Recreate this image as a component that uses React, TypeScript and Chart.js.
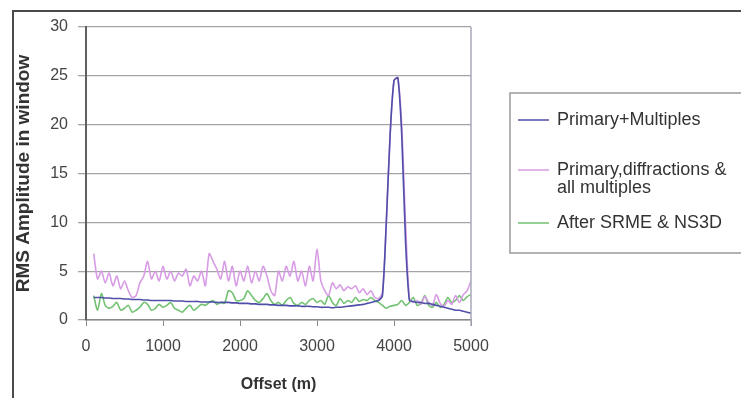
import React, { useEffect, useRef } from "react";
import { Chart, registerables } from "chart.js";

Chart.register(...registerables);

const offsets = [
  100, 150, 200, 250, 300, 350, 400, 450, 500, 550, 600, 650, 700, 750, 800, 850, 900, 950, 1000,
  1050, 1100, 1150, 1200, 1250, 1300, 1350, 1400, 1450, 1500, 1550, 1600, 1650, 1700, 1750, 1800, 1850, 1900, 1950, 2000,
  2050, 2100, 2150, 2200, 2250, 2300, 2350, 2400, 2450, 2500, 2550, 2600, 2650, 2700, 2750, 2800, 2850, 2900, 2950, 3000,
  3050, 3100, 3150, 3200, 3250, 3300, 3350, 3400, 3450, 3500, 3550, 3600, 3650, 3700, 3750, 3800, 3850, 3900, 3950, 4000,
  4050, 4100, 4150, 4200, 4250, 4300, 4350, 4400, 4450, 4500, 4550, 4600, 4650, 4700, 4750, 4800, 4850, 4900, 4950, 5000,
];

const primaryMultiples = [
  2.3, 2.3, 2.3, 2.25, 2.25, 2.2, 2.2, 2.2, 2.15, 2.15, 2.1, 2.1, 2.1, 2.05, 2.05, 2.0, 2.0, 2.0, 2.0,
  2.0, 2.0, 1.95, 1.95, 1.95, 1.9, 1.9, 1.9, 1.9, 1.85, 1.85, 1.85, 1.85, 1.8, 1.8, 1.8, 1.8, 1.75, 1.75, 1.7,
  1.7, 1.7, 1.65, 1.65, 1.6, 1.6, 1.6, 1.55, 1.55, 1.5, 1.5, 1.5, 1.45, 1.45, 1.45, 1.4, 1.4, 1.4, 1.35, 1.35,
  1.3, 1.3, 1.3, 1.25, 1.3, 1.3, 1.35, 1.4, 1.45, 1.5, 1.55, 1.6, 1.7, 1.8, 1.9, 2.0, 2.5, 10, 19, 24.5,
  24.8, 19, 8, 2.0, 1.9, 1.8, 1.8, 1.7, 1.7, 1.6, 1.5, 1.4, 1.3, 1.2, 1.1, 1.0, 1.0, 0.9, 0.8, 0.7,
];

const primaryDiffractions = [
  6.8, 4.2, 5.0, 3.8, 4.8, 3.5, 4.5, 3.2, 4.0, 3.0, 2.3, 2.5, 3.8, 4.5, 6.0, 4.2, 5.0, 4.0, 5.5,
  4.2, 5.0, 4.0, 4.8, 4.5, 5.2, 3.5, 4.5, 4.0, 5.0, 3.5, 6.8, 6.0, 5.2, 4.2, 6.0, 4.0, 5.5, 3.5, 5.0,
  4.0, 5.5, 3.8, 5.0, 4.0, 5.5, 4.5, 3.0, 2.5, 5.0, 4.0, 5.5, 4.5, 6.0, 4.0, 5.0, 3.5, 5.5, 4.0, 7.3,
  4.0, 3.0, 2.5, 3.8, 3.2, 3.6, 3.0, 3.4, 3.2, 3.5, 2.8, 3.2, 2.6, 3.0, 2.3, 2.2, 2.8, 10, 19, 24.5,
  24.8, 20, 10, 2.2, 1.8, 2.0, 1.6, 2.4, 1.8, 1.5, 2.6, 1.7, 1.4, 2.0, 1.6, 2.5, 1.8, 2.6, 3.0, 4.0,
];

const afterSrme = [
  2.5, 1.0, 2.7, 1.5, 1.2, 1.4, 1.8, 1.0, 1.2, 1.5, 0.8, 1.0, 1.3, 1.8, 1.6, 1.0, 1.2, 1.6, 1.3,
  1.5, 1.8, 1.2, 1.0, 0.8, 1.2, 1.5, 1.0, 1.3, 1.6, 1.5, 1.8, 2.0, 1.6, 1.8, 1.7, 3.0, 2.8, 2.0, 2.0,
  2.2, 3.0, 2.5, 2.0, 1.8, 2.2, 2.7, 2.0, 1.6, 1.8, 1.5, 2.0, 2.3, 1.7, 1.5, 1.8, 1.6, 2.0, 2.2, 1.8,
  2.0, 1.6, 2.5, 1.8, 1.5, 2.2, 1.7, 2.0, 1.8, 2.3, 1.9, 2.1, 2.0, 2.3, 2.0, 1.8, 1.5, 1.2, 1.4, 1.5,
  1.6, 2.0, 1.5, 1.8, 2.3, 1.5, 1.7, 2.5, 1.5, 1.3, 1.8, 1.3, 1.6, 2.3, 1.8, 2.0, 2.5, 2.0, 2.4, 2.6,
];

const seriesNames = ["Primary+Multiples", "Primary,diffractions &\nall multiples", "After SRME & NS3D"];
const seriesColors = ["#4f4fa8", "#d79ce4", "#72c272"];
const xTicks = [0, 1000, 2000, 3000, 4000, 5000];
const yTicks = [0, 5, 10, 15, 20, 25, 30];

const FONT = "'Liberation Sans', Arial, sans-serif";

const framePlugin = {
  id: "frame",
  beforeDraw(chart: any) {
    const ctx = chart.ctx;
    ctx.save();
    ctx.fillStyle = "#ffffff";
    ctx.fillRect(0, 0, chart.width, chart.height);
    ctx.restore();
  },
  afterDraw(chart: any) {
    const ctx = chart.ctx;
    const a = chart.chartArea;
    ctx.save();
    // outer frame
    ctx.strokeStyle = "#4a4a4a";
    ctx.lineWidth = 2;
    ctx.beginPath();
    ctx.moveTo(13, chart.height + 5);
    ctx.lineTo(13, 11);
    ctx.lineTo(chart.width + 5, 11);
    ctx.stroke();
    // plot right border
    ctx.strokeStyle = "#a8a8b8";
    ctx.lineWidth = 1.5;
    ctx.beginPath();
    ctx.moveTo(a.right, a.top);
    ctx.lineTo(a.right, a.bottom + 6);
    ctx.stroke();
    // legend
    const lx = 510, ly = 93, lw = 260, lh = 160;
    ctx.strokeStyle = "#9a9a9a";
    ctx.lineWidth = 1.5;
    ctx.strokeRect(lx, ly, lw, lh);
    ctx.font = `18px ${FONT}`;
    ctx.fillStyle = "#333333";
    ctx.textBaseline = "middle";
    ctx.textAlign = "left";
    const rows = [120, 170, 223];
    seriesNames.forEach((name, i) => {
      const y = rows[i];
      ctx.strokeStyle = seriesColors[i];
      ctx.lineWidth = 1.5;
      ctx.beginPath();
      ctx.moveTo(518, y);
      ctx.lineTo(549, y);
      ctx.stroke();
      name.split("\n").forEach((line, j) => {
        ctx.fillText(line, 557, y + j * 18);
      });
    });
    ctx.restore();
  },
};

export default function App() {
  const ref = useRef<HTMLCanvasElement | null>(null);
  useEffect(() => {
    document.body.style.margin = "0";
    const canvas = ref.current;
    if (!canvas) return;
    const datasets = [primaryMultiples, primaryDiffractions, afterSrme].map((vals, i) => ({
      label: seriesNames[i],
      data: offsets.map((x, k) => ({ x, y: vals[k] })),
      borderColor: seriesColors[i],
      backgroundColor: seriesColors[i],
      borderWidth: 1.6,
      pointRadius: 0,
      tension: 0.25,
      fill: false,
    }));
    const chart = new Chart(canvas, {
      type: "line",
      data: { datasets },
      options: {
        animation: false,
        responsive: false,
        maintainAspectRatio: false,
        layout: { padding: { left: 0, top: 27, right: 270, bottom: 0 } },
        plugins: { legend: { display: false }, tooltip: { enabled: false } },
        scales: {
          x: {
            type: "linear",
            min: 0,
            max: 5000,
            afterBuildTicks: (s: any) => {
              s.ticks = xTicks.map((v) => ({ value: v }));
            },
            afterFit: (s: any) => {
              s.height = 78;
            },
            grid: { drawOnChartArea: false, drawTicks: true, tickLength: 6, color: "#888888", lineWidth: 1 },
            border: { display: true, color: "#8a8a8a", width: 1.5 },
            ticks: {
              color: "#444444",
              font: { family: FONT, size: 16 },
              padding: 11,
              maxRotation: 0,
              callback: (v: any) => String(v),
            },
            title: {
              display: true,
              text: "Offset (m)",
              color: "#333333",
              font: { family: FONT, size: 16, weight: "bold" },
              padding: { top: 0, bottom: 4 },
            },
          },
          y: {
            type: "linear",
            min: 0,
            max: 30,
            afterBuildTicks: (s: any) => {
              s.ticks = yTicks.map((v) => ({ value: v }));
            },
            afterFit: (s: any) => {
              s.width = 86;
            },
            grid: { color: "#a4a4a8", lineWidth: 1.3, tickLength: 8, drawTicks: true },
            border: { display: true, color: "#606060", width: 2 },
            ticks: { color: "#444444", font: { family: FONT, size: 16 }, padding: 10, callback: (v: any) => String(v) },
            title: {
              display: true,
              text: "RMS Amplitude in window",
              color: "#333333",
              font: { family: FONT, size: 19, weight: "bold" },
              padding: { top: 12, bottom: 0 },
            },
          },
        },
      },
      plugins: [framePlugin],
    });
    return () => chart.destroy();
  }, []);
  return (
    <div style={{ position: "fixed", left: 0, top: 0 }}>
      <canvas ref={ref} width={741} height={398} style={{ display: "block" }} />
    </div>
  );
}
